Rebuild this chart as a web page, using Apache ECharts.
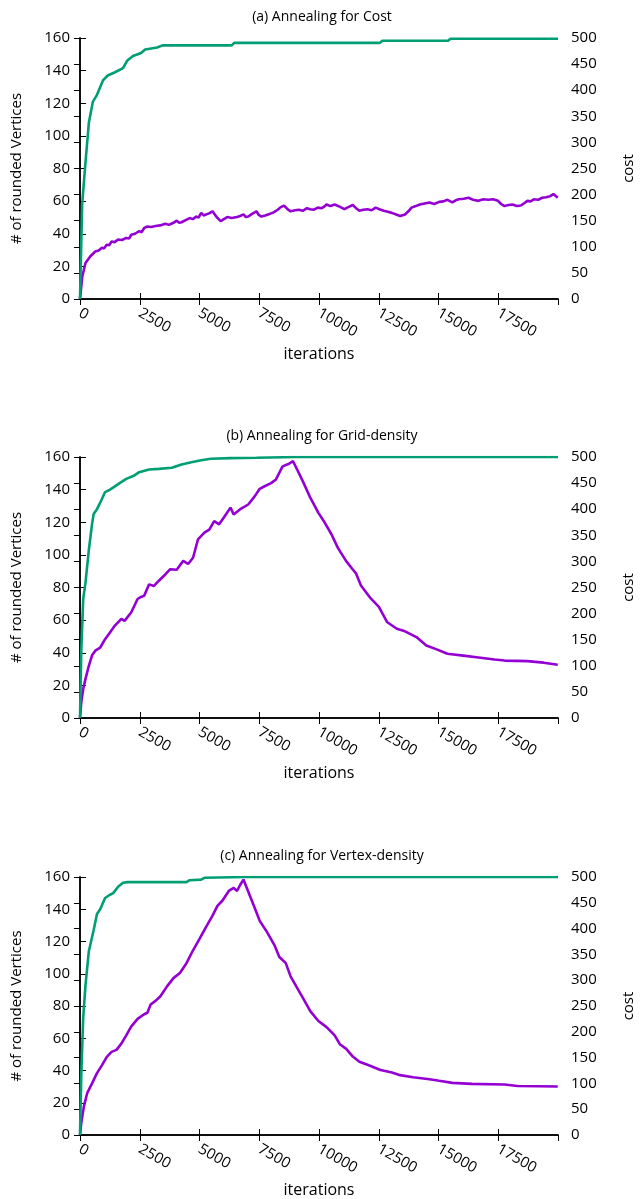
<!DOCTYPE html>
<html>
<head>
<meta charset="utf-8">
<script src="https://cdn.jsdelivr.net/npm/echarts@6/dist/echarts.min.js"></script>
<style>
  html, body { margin: 0; padding: 0; background: #fff; }
  #main { width: 644px; height: 1199px; }
</style>
</head>
<body>
<div id="main"></div>
<script>
// panel titles
var titles = ['(a) Annealing for Cost', '(b) Annealing for Grid-density', '(c) Annealing for Vertex-density'];

// # of rounded vertices  [iteration, count]
var vertsA = [[0,0],[90,58],[225,83],[370,108],[540,121],[706,125],[790,128],[960,134],[1160,137],[1465,139],[1800,141.5],[1970,146],[2220,149],[2555,150.8],[2725,153],[3230,154.2],[3450,155.5],[6350,155.5],[6450,157],[12550,157],[12650,158.3],[15400,158.3],[15500,159.5],[20000,159.5]];
var vertsB = [[0,0],[55,42],[135,73],[230,83],[370,103],[505,119],[570,125],[710,128],[845,132],[1050,138.5],[1255,140],[1460,142],[1660,144],[1935,146.6],[2275,148.7],[2480,150.7],[2890,152.3],[3300,152.7],[3840,153.4],[4250,155.4],[4660,156.8],[5070,158],[5475,158.9],[6295,159.3],[7385,159.5],[9020,160],[20000,160]];
var vertsC = [[0,0],[55,38],[135,73],[230,93],[370,114],[570,127],[710,137],[845,140],[1050,147],[1255,149],[1390,150],[1595,154],[1800,156.4],[2000,156.8],[4455,156.8],[4590,158],[5070,158.4],[5205,159.5],[6910,160],[20000,160]];

// cost  [iteration, cost]
var costA = [[0,0],[95,43],[230,69],[435,82],[640,91],[780,93],[915,98],[1010,97],[1115,104],[1220,103],[1320,110],[1450,109],[1595,114],[1760,113],[1935,117],[2060,116],[2140,123],[2300,125],[2480,130],[2580,128],[2685,136],[2820,139],[2980,138],[3160,140],[3350,141],[3570,144],[3720,142],[3910,146],[4045,150],[4150,146],[4250,147],[4420,151],[4590,155],[4720,153],[4865,158],[4960,156],[5070,165],[5170,160],[5270,162],[5400,164],[5545,168],[5700,158],[5885,149],[6020,153],[6160,157],[6350,155],[6570,157],[6700,159],[6840,162],[6940,157],[7040,158],[7200,163],[7385,168],[7480,161],[7590,158],[7750,160],[7930,163],[8100,166],[8270,171],[8400,176],[8540,179],[8680,172],[8815,168],[9000,170],[9155,171],[9320,169],[9495,174],[9630,172],[9770,171],[9950,175],[10110,174],[10220,177],[10315,181],[10480,178],[10655,181],[10860,177],[11065,172],[11180,175],[11270,177],[11415,180],[11550,174],[11690,169],[11850,171],[12030,172],[12200,170],[12370,175],[12530,172],[12710,169],[12880,167],[13050,165],[13230,162],[13395,159],[13600,162],[13740,168],[13870,175],[14050,178],[14215,181],[14420,183],[14625,185],[14820,182],[15030,186],[15200,187],[15375,190],[15580,185],[15720,189],[15850,191],[16050,192],[16260,194],[16450,190],[16670,188],[16880,191],[17080,190],[17280,191],[17490,188],[17620,182],[17760,178],[17930,180],[18105,181],[18280,178],[18445,179],[18600,184],[18720,188],[18850,187],[18990,191],[19170,190],[19335,194],[19500,195],[19670,197],[19810,201],[19990,194]];
var costB = [[0,0],[55,31],[135,56],[230,75],[370,100],[505,120],[640,129],[845,135],[1050,151],[1255,164],[1460,177],[1730,190],[1865,186],[2140,202],[2410,228],[2550,232],[2685,234],[2890,256],[3095,253],[3300,263],[3570,275],[3775,285],[4045,284],[4320,301],[4525,295],[4730,307],[4935,342],[5205,355],[5410,361],[5615,377],[5820,371],[6020,384],[6295,403],[6430,390],[6705,400],[7040,409],[7315,425],[7520,439],[7725,444],[7995,450],[8200,457],[8475,482],[8745,487],[8910,492],[9085,476],[9360,450],[9635,422],[9975,393],[10245,374],[10520,352],[10790,326],[11130,301],[11405,285],[11550,277],[11755,254],[12165,229],[12505,213],[12845,184],[13255,171],[13600,166],[14075,155],[14490,139],[14895,132],[15375,123],[16125,119],[16670,116],[17350,112],[17760,110],[18720,109],[19400,106],[19990,102]];
var costC = [[0,0],[55,24],[165,56],[300,81],[505,100],[710,120],[915,135],[1115,151],[1320,161],[1525,165],[1730,177],[1935,193],[2140,210],[2410,225],[2685,234],[2820,237],[2955,253],[3160,260],[3365,269],[3640,288],[3910,304],[4180,314],[4455,333],[4730,358],[5000,380],[5270,403],[5545,425],[5750,444],[5955,454],[6225,473],[6430,479],[6570,473],[6705,485],[6840,495],[6975,479],[7250,447],[7520,415],[7790,396],[8135,368],[8340,345],[8610,333],[8815,307],[9085,285],[9360,263],[9635,240],[9975,221],[10315,209],[10655,193],[10870,176],[11140,167],[11415,152],[11690,142],[12030,136],[12575,126],[13050,121],[13395,116],[13940,112],[14625,108],[15030,105],[15580,101],[16395,99],[17760,98],[18310,95],[19990,94]];

var vertsData = [vertsA, vertsB, vertsC];
var costData = [costA, costB, costC];

var chart = echarts.init(document.getElementById('main'));

var font = 'Open Sans';
var tops = [38, 457, 877];
var lineAx = { show: true, lineStyle: { color: '#000', width: 1.5 } };
var tickIn = { show: true, inside: true, length: 6, lineStyle: { color: '#000', width: 1 } };

var grid = [], xAxis = [], yAxis = [], series = [], title = [];

tops.forEach(function (top, i) {
    grid.push({ left: 80, width: 488, top: top, height: 261 });
    title.push({
        text: titles[i], left: 'center', top: top - 33,
        textStyle: { fontFamily: font, fontSize: 14, fontWeight: 'normal', color: '#000' }
    });
    xAxis.push({
        type: 'value', gridIndex: i, min: 0, max: 20000, interval: 2500,
        name: 'iterations', nameLocation: 'middle', nameGap: 47,
        nameTextStyle: { fontFamily: font, fontSize: 16, color: '#000' },
        axisLine: lineAx, axisTick: tickIn, splitLine: { show: false },
        axisLabel: {
            rotate: -30, margin: 13, showMaxLabel: false,
            formatter: function (v) { return String(v); },
            fontFamily: font, fontSize: 15, color: '#000'
        }
    });
    xAxis.push({
        type: 'value', gridIndex: i, position: 'top', min: 0, max: 20000, interval: 2500,
        axisLine: lineAx, axisTick: tickIn, axisLabel: { show: false }, splitLine: { show: false }
    });
    yAxis.push({
        type: 'value', gridIndex: i, min: 0, max: 160, interval: 20,
        name: '# of rounded Vertices', nameLocation: 'middle', nameGap: 56,
        nameTextStyle: { fontFamily: font, fontSize: 15, color: '#000' },
        axisLine: lineAx, axisTick: tickIn, splitLine: { show: false },
        axisLabel: { margin: 10, fontFamily: font, fontSize: 15, color: '#000' }
    });
    yAxis.push({
        type: 'value', gridIndex: i, position: 'right', min: 0, max: 500, interval: 50,
        name: 'cost', nameLocation: 'middle', nameGap: 63,
        nameTextStyle: { fontFamily: font, fontSize: 15, color: '#000' },
        axisLine: lineAx, axisTick: tickIn, splitLine: { show: false },
        axisLabel: { margin: 13, fontFamily: font, fontSize: 15, color: '#000' }
    });
    series.push({
        type: 'line', xAxisIndex: i * 2, yAxisIndex: i * 2, data: vertsData[i],
        showSymbol: false, lineStyle: { color: '#009e73', width: 2.6 }, z: 3
    });
    series.push({
        type: 'line', xAxisIndex: i * 2, yAxisIndex: i * 2 + 1, data: costData[i],
        showSymbol: false, lineStyle: { color: '#9400d3', width: 2.6 }, z: 2
    });
});

chart.setOption({
    animation: false,
    backgroundColor: '#fff',
    title: title,
    grid: grid,
    xAxis: xAxis,
    yAxis: yAxis,
    series: series
});
</script>
</body>
</html>
